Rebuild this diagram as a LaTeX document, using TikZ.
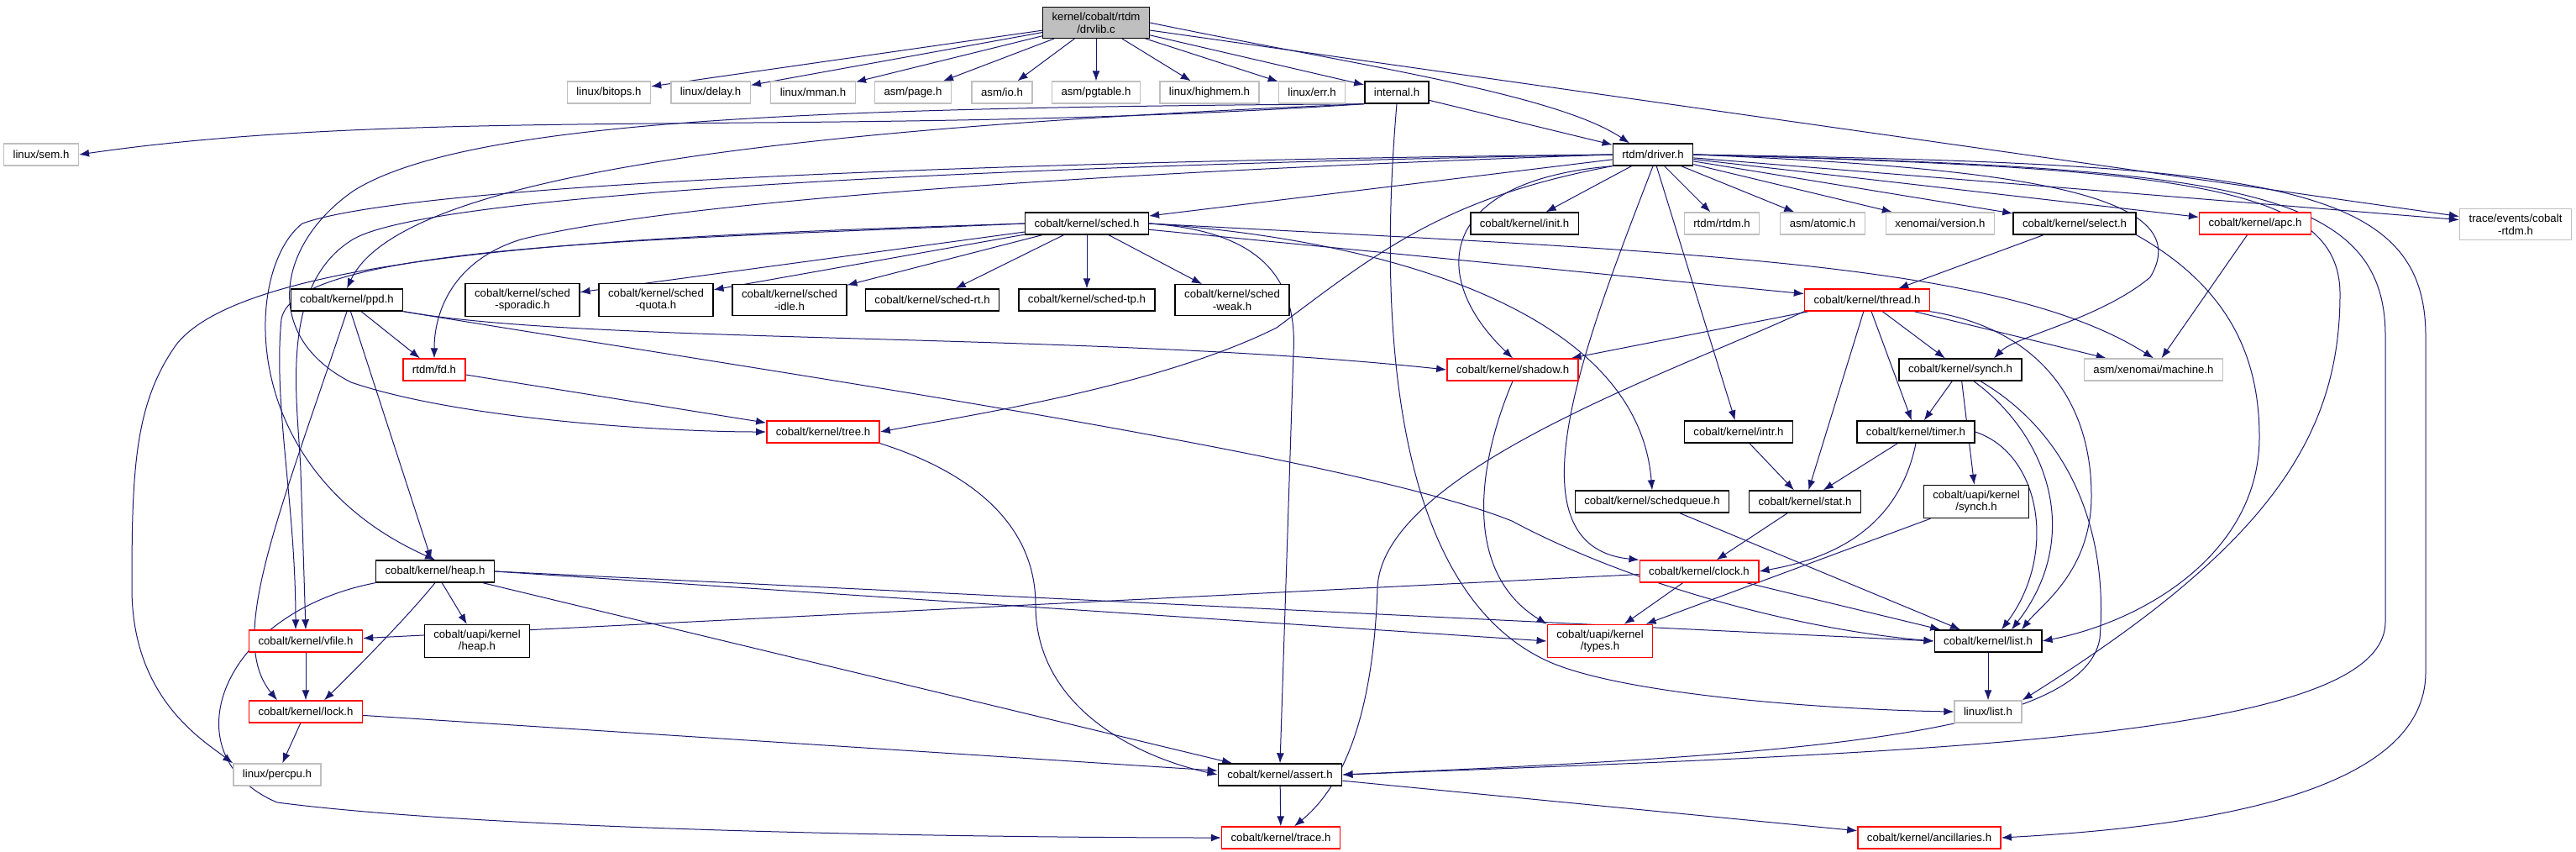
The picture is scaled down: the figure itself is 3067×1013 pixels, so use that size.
\documentclass[tikz,border=0pt]{standalone}
\usepackage{fontspec}
\setmainfont{Liberation Sans}
\usepackage{xcolor}
\usepackage{tikz}
\usetikzlibrary{arrows.meta, backgrounds}
\definecolor{edgeblue}{HTML}{191970}
\definecolor{extgray}{HTML}{BFBFBF}
\definecolor{rootfill}{HTML}{BFBFBF}
\definecolor{cutred}{HTML}{FF0000}

\tikzset{
  hfile/.style={draw=black, fill=white, line width=0.7pt, font=\fontsize{6.6}{7.4}\selectfont,
    inner xsep=5.5pt, inner ysep=3pt, minimum height=13pt, align=center},
  extfile/.style={hfile, draw=extgray},
  cutfile/.style={hfile, draw=cutred},
  rootfile/.style={hfile, fill=rootfill},
  dep/.style={draw=edgeblue, line width=0.5pt, -{Latex[length=6pt,width=4.5pt]}},
}

\begin{document}
\begin{tikzpicture}[x=0.5pt,y=-0.5pt]
    \path[use as bounding box] (0,0) rectangle (3067,1013);

    % Source file
    \node[rootfile] (drvlib) at (1305,27) {kernel/cobalt/rtdm\\/drvlib.c};

    % Headers of drvlib.c
    \node[extfile] (bitops) at (725,110) {linux/bitops.h};
    \node[extfile] (delay) at (846,110) {linux/delay.h};
    \node[extfile] (mman) at (968,110) {linux/mman.h};
    \node[extfile] (page) at (1087,110) {asm/page.h};
    \node[extfile] (io) at (1193,110) {asm/io.h};
    \node[extfile] (pgtable) at (1305,110) {asm/pgtable.h};
    \node[extfile] (highmem) at (1440,110) {linux/highmem.h};
    \node[extfile] (err) at (1562,110) {linux/err.h};
    \node[hfile] (internal) at (1663,110) {internal.h};

    \node[extfile] (sem) at (49,184) {linux/sem.h};
    \node[hfile] (driver) at (1968,184) {rtdm/driver.h};

    % Headers of driver.h
    \node[hfile] (sched) at (1294,266) {cobalt/kernel/sched.h};
    \node[hfile] (init) at (1815,266) {cobalt/kernel/init.h};
    \node[extfile] (rtdmh) at (2050,266) {rtdm/rtdm.h};
    \node[extfile] (atomic) at (2170,266) {asm/atomic.h};
    \node[extfile] (version) at (2310,266) {xenomai/version.h};
    \node[hfile] (select) at (2470,266) {cobalt/kernel/select.h};
    \node[cutfile] (apc) at (2685,266) {cobalt/kernel/apc.h};
    \node[extfile] (traceev) at (2995,267) {trace/events/cobalt\\-rtdm.h};

    % Scheduler classes
    \node[hfile] (ppd) at (413,357) {cobalt/kernel/ppd.h};
    \node[hfile] (sporadic) at (622,357) {cobalt/kernel/sched\\-sporadic.h};
    \node[hfile] (quota) at (781,357) {cobalt/kernel/sched\\-quota.h};
    \node[hfile] (idle) at (940,357) {cobalt/kernel/sched\\-idle.h};
    \node[hfile] (schedrt) at (1110,357) {cobalt/kernel/sched-rt.h};
    \node[hfile] (schedtp) at (1294,357) {cobalt/kernel/sched-tp.h};
    \node[hfile] (weak) at (1467,357) {cobalt/kernel/sched\\-weak.h};
    \node[cutfile] (thread) at (2223,357) {cobalt/kernel/thread.h};

    \node[cutfile] (fd) at (517,440) {rtdm/fd.h};
    \node[cutfile] (shadow) at (1801,440) {cobalt/kernel/shadow.h};
    \node[hfile] (synch) at (2334,440) {cobalt/kernel/synch.h};
    \node[extfile] (machine) at (2564,440) {asm/xenomai/machine.h};

    \node[cutfile] (tree) at (980,514) {cobalt/kernel/tree.h};
    \node[hfile] (intr) at (2070,514) {cobalt/kernel/intr.h};
    \node[hfile] (timer) at (2281,514) {cobalt/kernel/timer.h};

    \node[hfile] (schedqueue) at (1967,597) {cobalt/kernel/schedqueue.h};
    \node[hfile] (stat) at (2149,597) {cobalt/kernel/stat.h};
    \node[hfile] (usynch) at (2353,597) {cobalt/uapi/kernel\\/synch.h};

    \node[hfile] (heap) at (518,680) {cobalt/kernel/heap.h};
    \node[cutfile] (clock) at (2023,680) {cobalt/kernel/clock.h};

    \node[cutfile] (vfile) at (364,763) {cobalt/kernel/vfile.h};
    \node[hfile] (uheap) at (568,763) {cobalt/uapi/kernel\\/heap.h};
    \node[cutfile] (types) at (1905,763) {cobalt/uapi/kernel\\/types.h};
    \node[hfile] (list) at (2367,763) {cobalt/kernel/list.h};

    \node[cutfile] (lock) at (364,847) {cobalt/kernel/lock.h};
    \node[extfile] (linuxlist) at (2367,847) {linux/list.h};

    \node[extfile] (percpu) at (330,922) {linux/percpu.h};
    \node[hfile] (assert) at (1524,922) {cobalt/kernel/assert.h};

    \node[cutfile] (trace) at (1525,997) {cobalt/kernel/trace.h};
    \node[cutfile] (ancill) at (2297,997) {cobalt/kernel/ancillaries.h};

    \begin{scope}[on background layer]
    \fill[white] (0,0) rectangle (3067,1013);

    % drvlib.c
    \foreach \dst in {bitops,delay,mman,page,io,pgtable,highmem,err,internal,traceev}
        \draw[dep] (drvlib) -- (\dst);
    \draw[dep] (drvlib.east) .. controls (1600,75) and (1850,110) .. ([xshift=-14pt]driver.north);

    % internal.h
    \draw[dep] (internal) -- (driver);
    \draw[dep] (internal.south west) .. controls (1000,165) and (500,125) .. (sem.east);
    \draw[dep] (internal.south west) .. controls (1000,150) and (480,200) .. (ppd.north);
    \draw[dep] (internal.south west) .. controls (1000,128) and (560,140) .. (421,227)
        .. controls (330,290) and (310,400) .. (418,455) .. controls (550,500) and (800,514) .. (tree.west);
    \draw[dep] (internal.south) .. controls (1635,450) and (1680,720) .. (1850,790)
        .. controls (1950,830) and (2200,845) .. (linuxlist.west);

    % rtdm/driver.h
    \foreach \dst in {sched,init,rtdmh,atomic,version,select,apc,intr,traceev}
        \draw[dep] (driver) -- (\dst);
    \draw[dep] (driver.west) .. controls (1300,190) and (500,215) .. (360,266)
        .. controls (290,320) and (280,560) .. (heap.north);
    \draw[dep] (driver.west) .. controls (1300,205) and (800,240) .. (620,285)
        .. controls (540,310) and (517,370) .. (fd.north);
    \draw[dep] (driver.west) .. controls (1300,195) and (520,225) .. (420,285)
        .. controls (330,340) and (355,480) .. (358,560) -- (vfile.north);
    \draw[dep] (driver.south west) .. controls (1720,235) and (1640,300) .. (1520,390)
        .. controls (1380,460) and (1150,495) .. (tree.east);
    \draw[dep] (driver.south west) .. controls (1710,215) and (1700,330) .. (shadow.north);
    \draw[dep] (driver.south) .. controls (1890,400) and (1790,650) .. (clock.north west);
    \draw[dep] (driver.east) .. controls (2400,200) and (2620,230) .. (2560,330)
        .. controls (2500,380) and (2400,400) .. ([xshift=20pt]synch.north);
    \draw[dep] (driver.east) .. controls (2600,200) and (2786,220) .. (2786,350)
        .. controls (2786,520) and (2700,650) .. (linuxlist.north east);
    \draw[dep] (driver.east) .. controls (2650,200) and (2840,220) .. (2840,400) -- (2840,740)
        .. controls (2840,880) and (2300,895) .. (assert.east);
    \draw[dep] (driver.east) .. controls (2700,195) and (2888,215) .. (2888,400) -- (2888,800)
        .. controls (2888,950) and (2600,985) .. (ancill.east);

    % cobalt/kernel/sched.h
    \foreach \dst in {sporadic,quota,idle,schedrt,schedtp,weak,thread}
        \draw[dep] (sched) -- (\dst);
    \draw[dep] (sched.west) .. controls (800,280) and (300,295) .. (210,410)
        .. controls (160,480) and (157,560) .. (157,700) .. controls (157,830) and (240,880) .. (percpu.north west);
    \draw[dep] (sched.west) .. controls (800,285) and (350,290) .. (335,380)
        .. controls (325,480) and (352,600) .. ([xshift=-6pt]vfile.north);
    \draw[dep] (sched.east) .. controls (2000,300) and (2380,310) .. (machine.north);
    \draw[dep] (sched.east) .. controls (1650,285) and (1950,370) .. (schedqueue.north);
    \draw[dep] (sched.east) .. controls (1500,275) and (1545,330) .. (1540,420) -- (assert.north);

    % cobalt/kernel/ppd.h
    \draw[dep] (ppd) -- (fd);
    \draw[dep] (ppd) -- (heap);
    \draw[dep] (ppd.south) .. controls (330,620) and (270,760) .. ([xshift=-17pt]lock.north);
    \draw[dep] (ppd.south east) .. controls (700,410) and (1300,395) .. (shadow.west);
    \draw[dep] (ppd.south east) .. controls (900,440) and (1600,540) .. (1800,620)
        .. controls (1950,700) and (2150,750) .. (list.west);

    % heap, vfile, lock, tree, shadow
    \draw[dep] (fd) -- (tree);
    \draw[dep] (heap) -- (uheap);
    \draw[dep] (heap.south) .. controls (480,740) and (420,800) .. ([xshift=11pt]lock.north);
    \draw[dep] (heap) -- (assert);
    \draw[dep] (heap.east) -- (list.west);
    \draw[dep] (heap.east) -- (types.west);
    \draw[dep] (heap.south west) .. controls (260,730) and (200,900) .. (330,955)
        .. controls (600,990) and (1200,997) .. (trace.west);
    \draw[dep] (vfile) -- (lock);
    \draw[dep] (lock) -- (percpu);
    \draw[dep] (lock) -- (assert);
    \draw[dep] (tree.south east) .. controls (1150,560) and (1233,620) .. (1233,720)
        .. controls (1233,840) and (1350,900) .. (assert.west);
    \draw[dep] (shadow.south) .. controls (1760,550) and (1740,680) .. (types.north west);

    % cobalt/kernel/thread.h
    \foreach \dst in {shadow,stat,timer,synch,machine}
        \draw[dep] (thread) -- (\dst);
    \draw[dep] (thread.south east) .. controls (2420,390) and (2490,470) .. (2490,590)
        .. controls (2490,680) and (2430,720) .. ([xshift=20pt]list.north);
    \draw[dep] (thread.south west) .. controls (2000,440) and (1645,560) .. (1640,700)
        .. controls (1635,850) and (1600,935) .. ([xshift=8pt]trace.north);
    \draw[dep] (select) -- (thread);
    \draw[dep] (select.south east) .. controls (2650,340) and (2690,420) .. (2690,520)
        .. controls (2690,660) and (2550,740) .. (list.east);
    \draw[dep] (apc) -- (machine);

    % synch, timer and the rest
    \draw[dep] (synch) -- (timer);
    \draw[dep] (synch) -- (usynch);
    \draw[dep] ([xshift=8pt]synch.south) .. controls (2440,520) and (2480,640) .. ([xshift=14pt]list.north);
    \draw[dep] ([xshift=12pt]synch.south) .. controls (2470,520) and (2510,640) .. (2500,760)
        .. controls (2480,880) and (2100,900) .. (assert.east);
    \draw[dep] (timer) -- (stat);
    \draw[dep] (timer.south) .. controls (2260,630) and (2180,665) .. (clock.east);
    \draw[dep] (timer.east) .. controls (2430,540) and (2450,660) .. ([xshift=8pt]list.north);
    \draw[dep] (intr) -- (stat);
    \draw[dep] (stat) -- (clock);
    \draw[dep] (usynch) -- (types);
    \draw[dep] (schedqueue) -- (list);
    \draw[dep] (clock) -- (vfile);
    \draw[dep] (clock) -- (types);
    \draw[dep] (clock) -- (list);
    \draw[dep] (list) -- (linuxlist);
    \draw[dep] (assert) -- (trace);
    \draw[dep] (assert) -- (ancill);
    \end{scope}
\end{tikzpicture}
\end{document}
